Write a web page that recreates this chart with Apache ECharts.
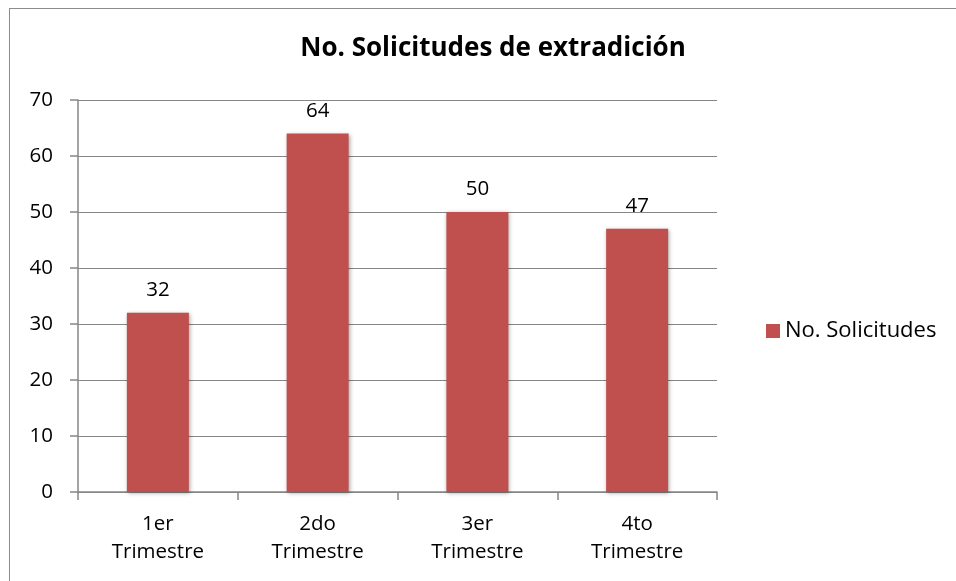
<!DOCTYPE html>
<html>
<head>
<meta charset="utf-8">
<script src="https://cdn.jsdelivr.net/npm/echarts@6/dist/echarts.min.js"></script>
<style>
  html, body { margin: 0; padding: 0; background: #fff; }
  #frame { position: absolute; left: 9px; top: 8px; width: 960px; height: 600px; border: 1px solid #8c8c8c; box-sizing: border-box; }
  #chart { position: absolute; left: 0; top: 0; width: 956px; height: 581px; }
</style>
</head>
<body>
<div id="frame"></div>
<div id="chart"></div>
<script>
// datos del grafico
var trimestres = ['1er\nTrimestre', '2do\nTrimestre', '3er\nTrimestre', '4to\nTrimestre'];
var solicitudes = [32, 64, 50, 47];
var serieNombre = 'No. Solicitudes';
var titulo = 'No. Solicitudes de extradición';

var fuente = '"Open Sans", "Noto Sans", sans-serif';
var myChart = echarts.init(document.getElementById('chart'));

var option = {
  backgroundColor: 'transparent',
  animation: false,
  title: {
    text: titulo,
    left: 488,
    top: 31,
    textAlign: 'center',
    textStyle: { fontFamily: fuente, fontSize: 26, fontWeight: 'bold', color: '#000' }
  },
  legend: {
    orient: 'vertical',
    left: 761,
    top: 315,
    itemWidth: 14,
    itemHeight: 14,
    itemGap: 8,
    icon: 'rect',
    textStyle: { fontFamily: fuente, fontSize: 22, color: '#000' },
    data: [serieNombre]
  },
  grid: { left: 78, right: 239, top: 100, bottom: 89 },
  xAxis: {
    type: 'category',
    data: trimestres,
    axisLine: { lineStyle: { color: '#868686', width: 1.5 } },
    axisTick: { show: true, length: 8, alignWithLabel: false, lineStyle: { color: '#868686', width: 1.5 } },
    axisLabel: { fontFamily: fuente, fontSize: 20.5, color: '#000', lineHeight: 28, margin: 18 }
  },
  yAxis: {
    type: 'value',
    min: 0,
    max: 70,
    interval: 10,
    axisLine: { show: true, lineStyle: { color: '#868686', width: 1.5 } },
    axisTick: { show: true, length: 8, lineStyle: { color: '#868686', width: 1.5 } },
    splitLine: { lineStyle: { color: '#868686', width: 1.2 } },
    axisLabel: { fontFamily: fuente, fontSize: 20.5, color: '#000', margin: 25 }
  },
  series: [{
    name: serieNombre,
    type: 'bar',
    data: solicitudes,
    barWidth: 62,
    itemStyle: {
      color: '#C0504D',
      shadowColor: 'rgba(0,0,0,0.35)',
      shadowBlur: 4,
      shadowOffsetX: 1,
      shadowOffsetY: 1
    },
    label: {
      show: true,
      position: 'top',
      distance: 12,
      fontFamily: fuente,
      fontSize: 20.5,
      color: '#000'
    }
  }]
};

myChart.setOption(option);
window.addEventListener('resize', function () { myChart.resize(); });
</script>
</body>
</html>
